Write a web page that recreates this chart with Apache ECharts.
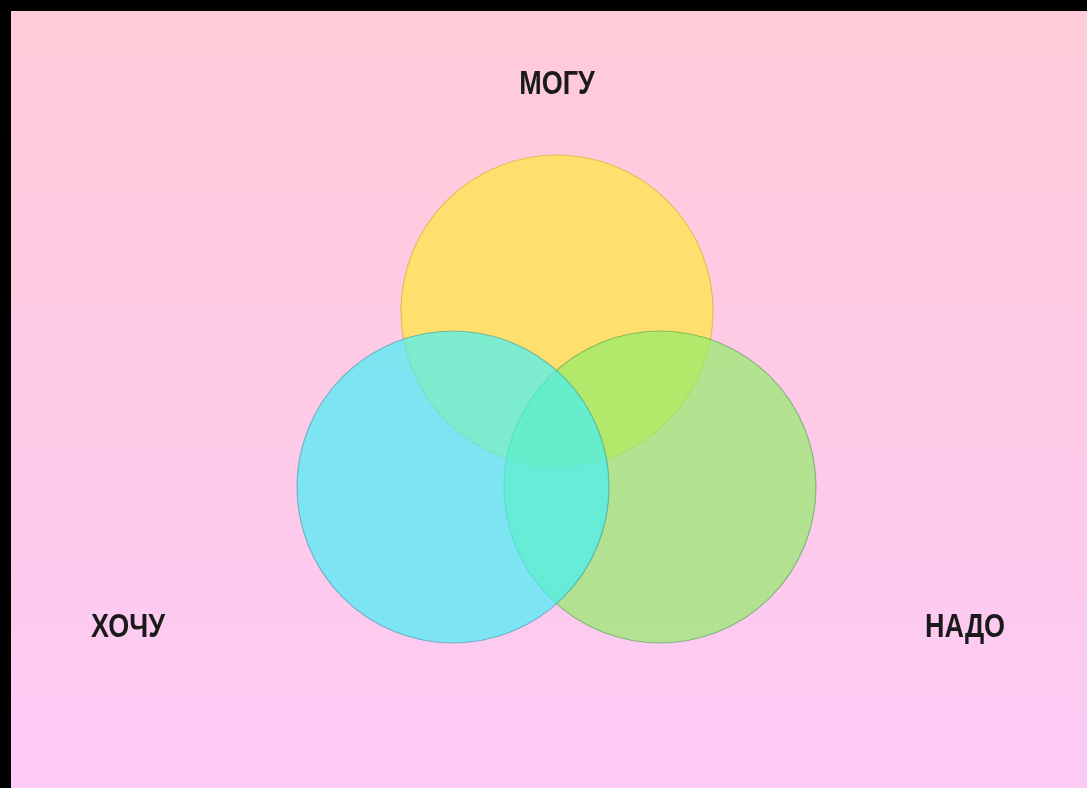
<!DOCTYPE html>
<html>
<head>
<meta charset="utf-8">
<script src="https://cdn.jsdelivr.net/npm/echarts@6/dist/echarts.min.js"></script>
<style>
	html, body { margin: 0; padding: 0; background: #000; }
	#chart { position: absolute; left: 11px; top: 11px; width: 1076px; height: 777px; }
</style>
</head>
<body>
<div id="chart"></div>
<script>
	// circles of the diagram (drawn in this order)
	let setNames = ['МОГУ', 'НАДО', 'ХОЧУ'];
	let centerX = [546, 649, 442];
	let centerY = [300, 476, 476];
	let radius = [156, 156, 156];
	let fillColors = ['rgb(255,224,110)', 'rgba(145,236,105,0.7)', 'rgba(70,240,245,0.7)'];
	let strokeColors = ['rgba(215,170,40,0.6)', 'rgba(40,140,60,0.45)', 'rgba(30,130,150,0.45)'];

	let myChart = echarts.init(document.getElementById('chart'));

	let data = [];
	for (let i = 0; i < setNames.length; i++) {
		data.push({
			name: setNames[i],
			value: [centerX[i], centerY[i], radius[i]]
		});
	}

	let labelStyle = {
		fill: '#1a1a1a',
		font: 'bold 27px "Liberation Sans", Arial, sans-serif',
		align: 'center',
		verticalAlign: 'middle'
	};

	let option = {
		backgroundColor: {
			type: 'linear',
			x: 0, y: 0, x2: 0, y2: 1,
			colorStops: [
				{ offset: 0, color: 'rgb(255,203,216)' },
				{ offset: 1, color: 'rgb(253,202,246)' }
			]
		},
		animation: false,
		grid: { left: 0, right: 0, top: 0, bottom: 0 },
		xAxis: { type: 'value', min: 0, max: 1076, show: false },
		yAxis: { type: 'value', min: 0, max: 777, inverse: true, show: false },
		graphic: [
			{ type: 'text', x: 546, y: 74, scaleY: 1.2, style: Object.assign({ text: 'МОГУ' }, labelStyle) },
			{ type: 'text', x: 117, y: 617, scaleY: 1.2, style: Object.assign({ text: 'ХОЧУ' }, labelStyle) },
			{ type: 'text', x: 954, y: 617, scaleY: 1.2, style: Object.assign({ text: 'НАДО' }, labelStyle) }
		],
		series: [{
			type: 'custom',
			coordinateSystem: 'cartesian2d',
			silent: true,
			renderItem: function (params, api) {
				let c = api.coord([api.value(0), api.value(1)]);
				let r = api.size([api.value(2), 0])[0];
				return {
					type: 'circle',
					shape: { cx: c[0], cy: c[1], r: r },
					style: {
						fill: fillColors[params.dataIndex],
						stroke: strokeColors[params.dataIndex],
						lineWidth: 1.2
					}
				};
			},
			data: data
		}]
	};
	myChart.setOption(option);
</script>
</body>
</html>
